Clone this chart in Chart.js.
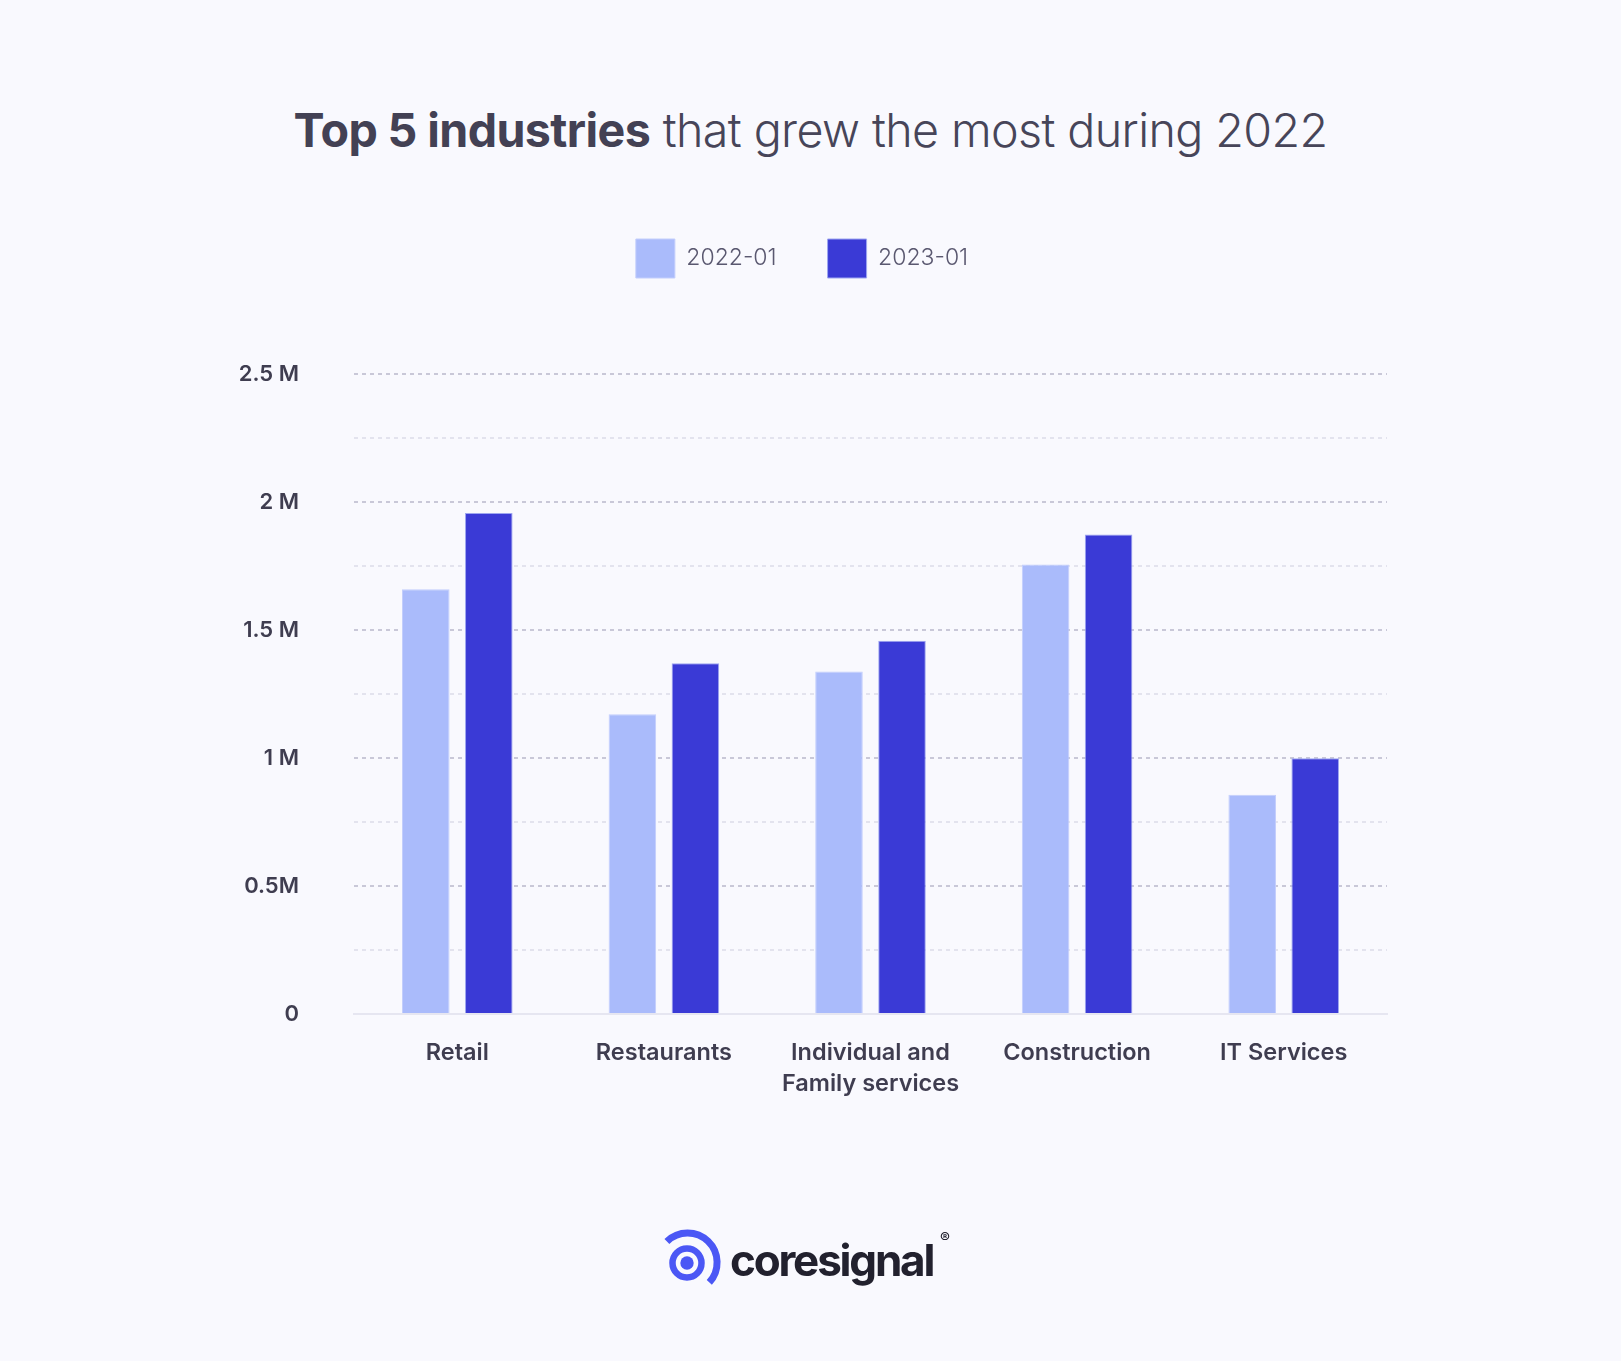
<!DOCTYPE html>
<html>
<head>
<meta charset="utf-8">
<script src="https://cdn.jsdelivr.net/npm/chart.js@4.4.0/dist/chart.umd.min.js"></script>
<style>
    html, body {
        margin: 0;
        padding: 0;
        background: #f9f9fe;
    }
    #page {
        position: relative;
        width: 1621px;
        height: 1361px;
        overflow: hidden;
        font-family: 'Inter', 'Noto Sans', sans-serif;
    }
    #title {
        position: absolute;
        left: 0;
        width: 1621px;
        top: 102px;
        text-align: center;
        font-size: 46.6px;
        color: #474559;
        letter-spacing: -0.6px;
        white-space: nowrap;
    }
    #title b { font-weight: 700; color: #434154; }
    #title span { font-weight: 300; }
    #chart {
        position: absolute;
        left: 0;
        top: 0;
    }
    #logo-icon {
        position: absolute;
        left: 652px;
        top: 1228px;
    }
    #logo-word {
        position: absolute;
        left: 730px;
        top: 1238px;
        font-size: 44px;
        line-height: 44px;
        font-weight: 700;
        color: #22212e;
        letter-spacing: -2.2px;
    }
    #logo-reg {
        position: absolute;
        left: 940px;
        top: 1228px;
        font-size: 15px;
        font-weight: 600;
        color: #22212e;
    }
</style>
</head>
<body>
<div id="page">
    <div id="title"><b>Top 5 industries</b> <span>that grew the most during 2022</span></div>
    <canvas id="chart" width="1621" height="1361"></canvas>
    <svg id="logo-icon" width="70" height="70" viewBox="0 0 70 70">
        <path d="M 14.9 13.4 A 29.5 29.5 0 0 1 57.3 54.4" fill="none" stroke="#4b57f5" stroke-width="7"/>
        <circle cx="35" cy="35" r="14.5" fill="none" stroke="#4b57f5" stroke-width="6.5"/>
        <circle cx="35" cy="35" r="6.7" fill="#4b57f5"/>
    </svg>
    <div id="logo-word">coresignal</div>
    <div id="logo-reg">®</div>
</div>
<script>
// Data
const categories = ['Retail', 'Restaurants', ['Individual and', 'Family services'], 'Construction', 'IT Services'];
const seriesNames = ['2022-01', '2023-01'];
const values2022 = [1659000, 1171000, 1338000, 1756000, 856000];
const values2023 = [1957000, 1370000, 1458000, 1873000, 999000];
const yTickValues = [0, 500000, 1000000, 1500000, 2000000, 2500000];
const yTickLabels = ['0', '0.5M', '1 M', '1.5 M', '2 M', '2.5 M'];

const lightBlue = '#aabbfb';
const darkBlue = '#3a3ad6';

// make legend block a fixed height so the plot starts where it should
const legendSpacer = {
    id: 'legendSpacer',
    beforeInit(chart) {
        const origFit = chart.legend.fit;
        chart.legend.fit = function () {
            origFit.bind(chart.legend)();
            this.height = 186;
        };
    }
};

const ctx = document.getElementById('chart').getContext('2d');
new Chart(ctx, {
    type: 'bar',
    data: {
        labels: categories,
        datasets: [{
            label: seriesNames[0],
            data: values2022,
            backgroundColor: lightBlue,
            borderColor: '#c3cefc',
            borderWidth: 1,
            categoryPercentage: 0.61,
            barPercentage: 0.755
        }, {
            label: seriesNames[1],
            data: values2023,
            backgroundColor: darkBlue,
            borderColor: '#9ea6f0',
            borderWidth: 1,
            categoryPercentage: 0.61,
            barPercentage: 0.755
        }]
    },
    options: {
        responsive: false,
        animation: false,
        layout: {
            padding: { top: 188, left: 217, right: 234, bottom: 0 }
        },
        plugins: {
            legend: {
                position: 'top',
                labels: {
                    boxWidth: 39,
                    boxHeight: 39,
                    padding: 51,
                    color: '#5a5870',
                    font: { family: 'Inter', size: 23, weight: 300 }
                }
            },
            tooltip: { enabled: false }
        },
        scales: {
            x: {
                grid: { display: false },
                border: { display: true, color: '#e6e6f1', width: 2 },
                ticks: {
                    color: '#3f3d50',
                    padding: 16,
                    font: { family: 'Inter', size: 23.5, weight: 600, lineHeight: 1.3 }
                },
                afterFit(scale) { scale.height = 347; }
            },
            y: {
                min: 0,
                max: 2500000,
                afterFit(scale) { scale.width = 137; },
                border: { display: false, dash: [4, 4] },
                grid: {
                    drawTicks: false,
                    lineWidth: 2,
                    color(c) {
                        if (c.index === 0) return 'rgba(0,0,0,0)';
                        return c.index % 2 === 0 ? '#c9c8d8' : '#e3e3ee';
                    }
                },
                ticks: {
                    stepSize: 250000,
                    padding: 55,
                    color: '#3f3d50',
                    font: { family: 'Inter', size: 22, weight: 600 },
                    callback(value) {
                        const i = yTickValues.indexOf(value);
                        return i >= 0 ? yTickLabels[i] : '';
                    }
                }
            }
        }
    },
    plugins: [legendSpacer]
});
</script>
</body>
</html>
